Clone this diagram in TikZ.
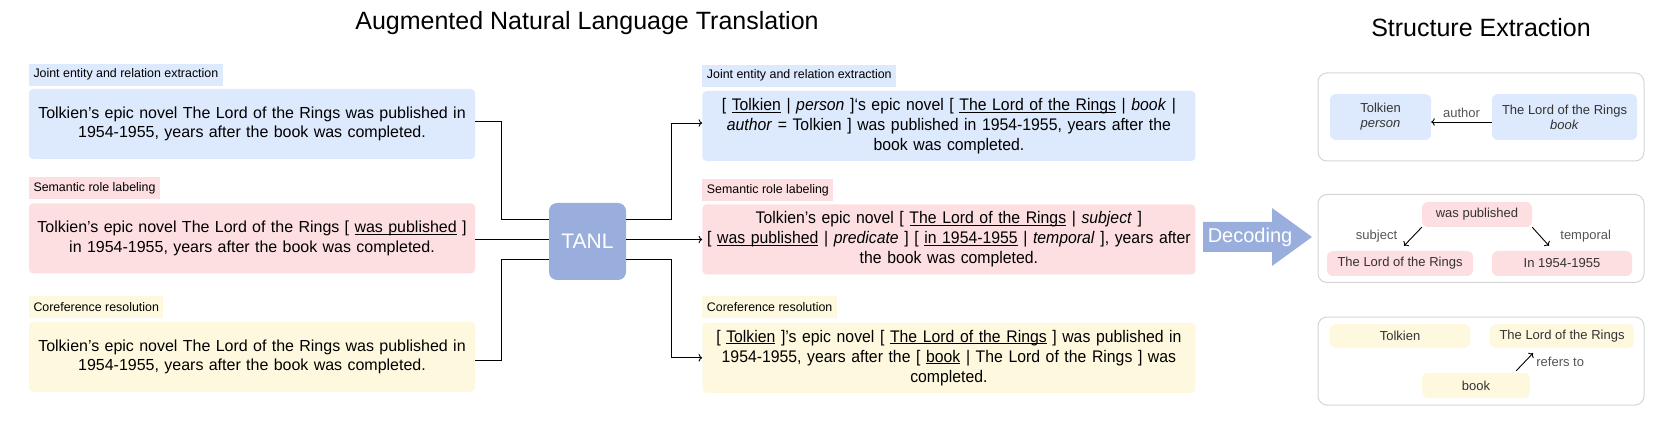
\documentclass[tikz,border=0pt]{standalone}
\usepackage{fontspec}
\setmainfont{Liberation Sans}
\newfontfamily\narrowsans[FakeStretch=0.94]{Liberation Sans}
\usepackage{xcolor}
\usetikzlibrary{positioning,arrows.meta}

\definecolor{jerblue}{HTML}{DDE9FC}
\definecolor{srlpink}{HTML}{FDDEE1}
\definecolor{corefyellow}{HTML}{FEF9DE}
\definecolor{tanlblue}{HTML}{9AAEDD}
\definecolor{framegrey}{HTML}{D5D5D5}
\definecolor{nodetext}{HTML}{333333}
\definecolor{reltext}{HTML}{555555}

\newcommand{\uln}[1]{\underline{\smash{#1}}}

\begin{document}
\begin{tikzpicture}[x=1pt, y=-1pt,
    sentbox/.style={rounded corners=4pt, minimum width=446pt, minimum height=70pt, text width=438pt, align=center, inner xsep=4pt, font=\fontsize{16}{19.5}\selectfont},
    outbox/.style={sentbox, minimum width=493pt, text width=493pt, inner xsep=0pt, font=\narrowsans\fontsize{16.8}{20}\selectfont},
    tasklabel/.style={inner xsep=4.5pt, inner ysep=0pt, minimum height=22pt, font=\fontsize{12.4}{14}\selectfont},
    title/.style={anchor=base, font=\fontsize{25}{30}\selectfont},
    tanl/.style={fill=tanlblue, rounded corners=8pt, minimum size=77pt, text=white, font=\fontsize{21}{25}\selectfont},
    struct/.style={draw=framegrey, line width=1pt, rounded corners=9pt, minimum width=326pt, minimum height=88pt},
    item/.style={rounded corners=6pt, text=nodetext, align=center, inner sep=0pt, font=\fontsize{13}{15}\selectfont},
    rel/.style={text=reltext, font=\fontsize{13}{15}\selectfont},
    conn/.style={line width=0.9pt},
  ]
    \useasboundingbox (0,0) rectangle (1662,430);

    % titles
    \node[title] (tt1) at (587,30) {Augmented Natural Language Translation};
    \node[title] (tt2) at (1481,37) {Structure Extraction};

    % input sentences
    \node[sentbox, fill=jerblue] (in1) at (252,124) {Tolkien’s epic novel The Lord of the Rings was published in\\1954-1955, years after the book was completed.};
    \node[sentbox, fill=srlpink, below=44pt of in1] (in2) {Tolkien’s epic novel The Lord of the Rings [ \uln{was published} ]\\in 1954-1955, years after the book was completed.};
    \node[sentbox, fill=corefyellow, below=48pt of in2] (in3) {Tolkien’s epic novel The Lord of the Rings was published in\\1954-1955, years after the book was completed.};
    \node[tasklabel, fill=jerblue, above right=3pt and 0pt of in1.north west] (lab1) {Joint entity and relation extraction};
    \node[tasklabel, fill=srlpink, above right=4pt and 0pt of in2.north west] (lab2) {Semantic role labeling};
    \node[tasklabel, fill=corefyellow, above right=3pt and 0pt of in3.north west] (lab3) {Coreference resolution};

    % model
    \node[tanl] (tanl) at (587.5,241.5) {TANL};

    % augmented outputs
    \node[outbox, fill=jerblue, right=227pt of in1, yshift=-2pt] (out1) {[ \uln{Tolkien} | \textit{person} ]‘s epic novel [ \uln{The Lord of the Rings} | \textit{book} |\\\textit{author} = Tolkien ] was published in 1954-1955, years after the\\book was completed.};
    \node[outbox, fill=srlpink, below=43pt of out1] (out2) {Tolkien’s epic novel [ \uln{The Lord of the Rings} | \textit{subject} ]\\{}[ \uln{was published} | \textit{predicate} ] [ \uln{in 1954-1955} | \textit{temporal} ], years after\\the book was completed.};
    \node[outbox, fill=corefyellow, below=48pt of out2] (out3) {[ \uln{Tolkien} ]’s epic novel [ \uln{The Lord of the Rings} ] was published in\\1954-1955, years after the [ \uln{book} | The Lord of the Rings ] was\\completed.};
    \node[tasklabel, fill=jerblue, above right=4pt and 0pt of out1.north west] (olab1) {Joint entity and relation extraction};
    \node[tasklabel, fill=srlpink, above right=3pt and 0pt of out2.north west] (olab2) {Semantic role labeling};
    \node[tasklabel, fill=corefyellow, above right=4pt and 0pt of out3.north west] (olab3) {Coreference resolution};

    % connectors into and out of TANL
    \draw[conn] ([yshift=3pt]in1.east) -- ++(26,0) |- ([yshift=22pt]tanl.west);
    \draw[conn] ([yshift=2pt]tanl.west -| in2.east) -- ([yshift=2pt]tanl.west);
    \draw[conn] ([yshift=-4pt]in3.east) -- ++(26,0) |- ([yshift=-18pt]tanl.west);
    \draw[conn,->] ([yshift=22pt]tanl.east) -- ++(45,0) |- ([yshift=3pt]out1.west);
    \draw[conn,->] ([yshift=2pt]tanl.east) -- ([yshift=2pt]tanl.east -| out2.west);
    \draw[conn,->] ([yshift=-18pt]tanl.east) -- ++(45,0) |- (out3.west);

    % decoding arrow
    \fill[tanlblue] (1203,222) -- (1272,222) -- (1272,208) -- (1312,237) -- (1272,266) -- (1272,252) -- (1203,252) -- cycle;
    \node[text=white, font=\fontsize{20}{24}\selectfont] (dec) at (1250,237) {Decoding};

    % structures
    \node[struct] (st1) at (1481,117) {};
    \node[struct] (st2) at (1481,238.5) {};
    \node[struct] (st3) at (1481,361) {};

    % relation
    \node[item, fill=jerblue, minimum width=101pt, minimum height=46pt] (tolk1) at (1380.5,117) {Tolkien\\\textit{person}};
    \node[item, fill=jerblue, minimum width=145pt, minimum height=46pt] (lotr1) at (1564.5,117) {The Lord of the Rings\\\textit{book}};
    \draw[conn,->] ([yshift=-5pt]lotr1.west) -- ([yshift=-5pt]tolk1.east) node[rel, midway, above=1pt] {author};

    % semantic roles
    \node[item, fill=srlpink, minimum width=110pt, minimum height=25pt] (pub2) at (1477,214.5) {was published};
    \node[item, fill=srlpink, minimum width=146pt, minimum height=25pt] (lotr2) at (1400,263.5) {The Lord of the Rings};
    \node[item, fill=srlpink, minimum width=140pt, minimum height=25pt] (year2) at (1562,263.5) {In 1954-1955};
    \draw[conn,->] (pub2.south west) -- ([xshift=4pt,yshift=5pt]lotr2.north) node[rel, midway, left=12pt] {subject};
    \draw[conn,->] (pub2.south east) -- ([xshift=-13pt,yshift=5pt]year2.north) node[rel, midway, right=16pt] {temporal};

    % coreference
    \node[item, fill=corefyellow, minimum width=140pt, minimum height=24pt] (tolk3) at (1400,336) {Tolkien};
    \node[item, fill=corefyellow, minimum width=144pt, minimum height=24pt] (lotr3) at (1562,336) {The Lord of the Rings};
    \node[item, fill=corefyellow, minimum width=108pt, minimum height=25pt] (book3) at (1476,385.5) {book};
    \draw[conn,->] ([xshift=-14pt,yshift=2pt]book3.north east) -- ([xshift=-29pt,yshift=-5pt]lotr3.south) node[rel, midway, right=8pt] {refers to};
\end{tikzpicture}
\end{document}
